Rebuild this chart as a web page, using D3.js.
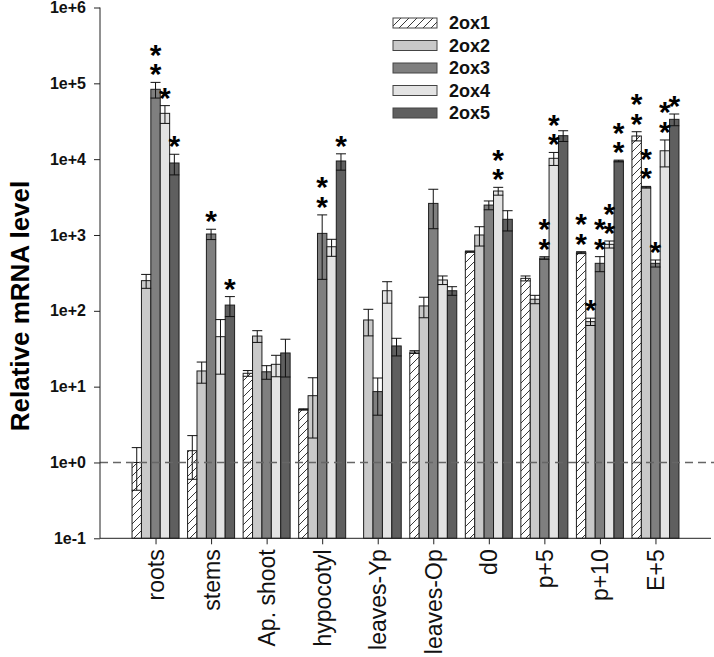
<!DOCTYPE html>
<html><head><meta charset="utf-8">
<script src="https://cdn.jsdelivr.net/npm/d3@7/dist/d3.min.js"></script>
<style>body{margin:0;background:#fff}svg{display:block}</style>
</head><body>
<svg id="chart" width="714" height="657"></svg>
<script>
// ---------------- data ----------------
const categories = ["roots","stems","Ap. shoot","hypocotyl","leaves-Yp","leaves-Op","d0","p+5","p+10","E+5"];
const seriesNames = ["2ox1","2ox2","2ox3","2ox4","2ox5"];

const ox1Mean = [1.0, 1.43, 15, 5.0, null, 28.6, 603, 268, 585, 20200];
const ox1Sd   = [0.57, 0.83, 1.3, 0.1, null, 1.2, 12, 20, 17, 2800];
const ox2Mean = [250, 16.1, 46.5, 7.6, 75.7, 116, 1000, 142, 72, 4260];
const ox2Sd   = [52, 5, 8.2, 5.5, 29, 35, 285, 18, 8, 110];
const ox3Mean = [83400, 1030, 15.7, 1050, 8.6, 2610, 2480, 497, 423, 423];
const ox3Sd   = [19500, 160, 3.2, 790, 4.4, 1400, 330, 20, 95, 45];
const ox4Mean = [40200, 45.6, 19.7, 700, 184, 255, 3800, 10260, 753, 12900];
const ox4Sd   = [10600, 31, 6.2, 177, 58, 33, 450, 2000, 80, 5000];
const ox5Mean = [8900, 119, 27.8, 9460, 34.4, 184, 1610, 20400, 9460, 33500];
const ox5Sd   = [2700, 35, 14.4, 2300, 9, 24, 480, 3300, 250, 5900];

// number of significance stars above each bar
const ox1Stars = [0,0,0,0,0,0,0,0,2,2];
const ox2Stars = [0,0,0,0,0,0,0,0,1,2];
const ox3Stars = [2,1,0,2,0,0,0,2,2,1];
const ox4Stars = [1,0,0,0,0,0,2,2,2,2];
const ox5Stars = [1,1,0,1,0,0,0,0,2,1];

const yTickValues = [1e-1, 1e0, 1e1, 1e2, 1e3, 1e4, 1e5, 1e6];
const yTickLabels = ["1e-1","1e+0","1e+1","1e+2","1e+3","1e+4","1e+5","1e+6"];
const yTitle = "Relative mRNA level";

// ---------------- build ----------------
const means = [ox1Mean, ox2Mean, ox3Mean, ox4Mean, ox5Mean];
const sds = [ox1Sd, ox2Sd, ox3Sd, ox4Sd, ox5Sd];
const starCounts = [ox1Stars, ox2Stars, ox3Stars, ox4Stars, ox5Stars];
const fills = ["url(#hatch)", "#c9c9c9", "#7f7f7f", "#e3e3e3", "#5f5f5f"];
const FONT = "'Liberation Sans', Arial, Helvetica, sans-serif";

const svg = d3.select("#chart");
const mLeft = 100, mRight = 711, mTop = 7.5, mBottom = 538.3;

const y = d3.scaleLog().domain([1e-1, 1e6]).range([mBottom, mTop]);
const x = d3.scaleLinear().domain([0, categories.length + 1]).range([mLeft, mRight]);
const barW = 9.4;
const inner = d3.scaleBand().domain(seriesNames).range([-2.5 * barW, 2.5 * barW]).padding(0);

const defs = svg.append("defs");
const P = 8;
const pat = defs.append("pattern").attr("id", "hatch")
  .attr("patternUnits", "userSpaceOnUse").attr("width", P).attr("height", P);
pat.append("rect").attr("width", P).attr("height", P).attr("fill", "#fff");
pat.append("path").attr("d", `M-1,1 L1,-1 M0,${P} L${P},0 M${P - 1},${P + 1} L${P + 1},${P - 1}`)
  .attr("stroke", "#222").attr("stroke-width", 0.9);

const rows = [];
categories.forEach((c, i) => {
  seriesNames.forEach((s, j) => {
    const v = means[j][i];
    if (v == null) return;
    const sd = sds[j][i];
    rows.push({cat: c, ci: i, series: s, sj: j, v, lo: Math.max(v - sd, 1e-2), hi: v + sd, stars: starCounts[j][i]});
  });
});
const bx = d => x(d.ci + 1) + inner(d.series);
const cx = d => bx(d) + barW / 2;

// bars
svg.append("g").selectAll("rect").data(rows).join("rect")
  .attr("x", bx).attr("width", barW)
  .attr("y", d => y(d.v)).attr("height", d => mBottom - y(d.v))
  .attr("fill", d => fills[d.sj])
  .attr("stroke", "#1e1e1e").attr("stroke-width", 1);

// error bars
const eg = svg.append("g").attr("stroke", "#111").attr("stroke-width", 1).attr("fill", "none");
eg.selectAll("path").data(rows).join("path")
  .attr("d", d => {
    const c = cx(d), h = 5, yl = y(d.lo), yh = y(d.hi);
    return `M${c},${yl}V${yh}M${c - h},${yh}H${c + h}M${c - h},${yl}H${c + h}`;
  });

// dashed reference line at 1
svg.append("line").attr("x1", mLeft).attr("x2", 714)
  .attr("y1", y(1)).attr("y2", y(1))
  .attr("stroke", "#666").attr("stroke-width", 1.4).attr("stroke-dasharray", "8,5");

// stars: one stacked text per bar
const starG = svg.append("g").selectAll("text").data(rows.filter(d => d.stars > 0)).join("text")
  .attr("text-anchor", "middle")
  .attr("font-family", FONT).attr("font-weight", "bold").attr("font-size", 30)
  .attr("fill", "#000");
starG.each(function(d) {
  const t = d3.select(this);
  const base = y(d.hi) - 15 + 17 - 19.5 * (d.stars - 1);
  for (let k = 0; k < d.stars; k++) {
    t.append("tspan").attr("x", cx(d)).attr("y", base + 19.5 * k).text("*");
  }
});

// axes
const yAxis = d3.axisLeft(y).tickValues(yTickValues)
  .tickFormat((d, i) => yTickLabels[i]).tickSize(6).tickPadding(8);
const gy = svg.append("g").attr("transform", `translate(${mLeft},0)`).call(yAxis);
gy.select(".domain").attr("d", `M0,${mTop}V${mBottom}`).attr("stroke", "#222");
gy.selectAll(".tick line").attr("stroke", "#222");
gy.selectAll("text").attr("font-family", FONT).attr("font-weight", "bold")
  .attr("font-size", 16).attr("fill", "#111");

const xAxis = d3.axisBottom(x).tickValues(categories.map((c, i) => i + 1))
  .tickFormat((d) => categories[d - 1]).tickSize(6).tickPadding(0);
const gx = svg.append("g").attr("transform", `translate(0,${mBottom})`).call(xAxis);
gx.select(".domain").attr("d", `M${mLeft},0H${mRight}`).attr("stroke", "#222");
gx.selectAll(".tick line").attr("stroke", "#222");
gx.selectAll("text")
  .attr("font-family", FONT).attr("font-size", 23).attr("fill", "#111")
  .attr("text-anchor", "end").attr("dy", "0.35em")
  .attr("transform", "translate(0,11) rotate(-90)")
  .attr("x", 0).attr("y", 0);

// y title
svg.append("text")
  .attr("transform", `translate(20,306) rotate(-90)`)
  .attr("text-anchor", "middle").attr("dy", "0.35em")
  .attr("font-family", FONT).attr("font-weight", "bold").attr("font-size", 26)
  .attr("fill", "#000").text(yTitle);

// legend
const lg = svg.append("g").attr("transform", "translate(393,18)");
const li = lg.selectAll("g").data(seriesNames).join("g")
  .attr("transform", (d, i) => `translate(0,${i * 22.5})`);
li.append("rect").attr("width", 44).attr("height", 10)
  .attr("fill", (d, i) => fills[i]).attr("stroke", "#444").attr("stroke-width", 1);
li.append("text").attr("x", 56).attr("y", 5).attr("dy", "0.36em")
  .attr("font-family", FONT).attr("font-weight", "bold").attr("font-size", 18)
  .attr("fill", "#111").text(d => d);
</script>
</body></html>
